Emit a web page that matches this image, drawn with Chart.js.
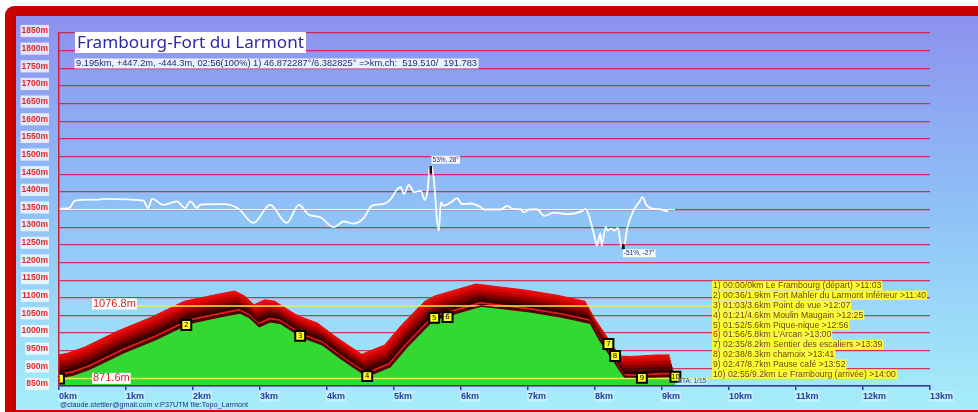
<!DOCTYPE html>
<html>
<head>
<meta charset="utf-8">
<script src="https://cdn.jsdelivr.net/npm/chart.js@4.4.1/dist/chart.umd.min.js"></script>
<style>
  html, body { margin: 0; padding: 0; background: #fff; }
  canvas { display: block; }
</style>
</head>
<body>
<canvas id="chart" width="978" height="412"></canvas>
<script>
// elevation profile (km / m)
const profileKm = [0.00, 0.21, 0.46, 0.96, 1.46, 1.95, 2.40, 2.70, 2.85, 2.99, 3.15, 3.30, 3.60, 3.70, 3.94, 4.20, 4.39, 4.60, 4.94, 5.19, 5.54, 5.69, 5.94, 6.30, 7.03, 7.52, 7.93, 8.07, 8.22, 8.37, 8.45, 8.60, 8.75, 9.00, 9.195];
const profileElev = [873, 881, 898, 944, 983, 1028, 1046, 1057, 1043, 1018, 1032, 1028, 992, 983, 966, 929, 904, 878, 904, 960, 1028, 1043, 1057, 1076.8, 1060, 1045, 1028, 980, 938, 895, 873, 871.6, 873, 876, 876];

// slope curve, drawn around the 1350m line
const slopeKm = [0.00, 0.15, 0.24, 0.61, 0.66, 1.26, 1.33, 1.39, 1.56, 1.76, 1.88, 1.96, 2.06, 2.11, 2.46, 2.68, 2.90, 3.15, 3.40, 3.58, 3.73, 3.90, 4.10, 4.25, 4.40, 4.55, 4.67, 4.85, 4.95, 5.05, 5.10, 5.15, 5.22, 5.30, 5.40, 5.46, 5.50, 5.53, 5.56, 5.60, 5.64, 5.67, 5.70, 5.74, 5.87, 5.94, 6.02, 6.14, 6.29, 6.34, 6.59, 6.69, 6.77, 6.89, 6.94, 7.02, 7.14, 7.24, 7.39, 7.59, 7.79, 7.86, 7.91, 7.99, 8.03, 8.08, 8.10, 8.16, 8.19, 8.24, 8.29, 8.34, 8.39, 8.43, 8.48, 8.58, 8.66, 8.71, 8.76, 8.84, 8.99, 9.09];
const slopeVal = [1352, 1354, 1375, 1378, 1380, 1375, 1354, 1380, 1363, 1373, 1354, 1373, 1354, 1364, 1365, 1352, 1312, 1363, 1312, 1363, 1335, 1328, 1300, 1316, 1310, 1326, 1361, 1366, 1379, 1408, 1413, 1394, 1420, 1399, 1403, 1377, 1403, 1465, 1474, 1426, 1324, 1290, 1371, 1361, 1373, 1382, 1365, 1367, 1357, 1350, 1350, 1360, 1352, 1350, 1342, 1350, 1350, 1332, 1341, 1337, 1344, 1352, 1332, 1275, 1248, 1282, 1248, 1301, 1290, 1296, 1290, 1298, 1248, 1243, 1296, 1349, 1371, 1385, 1365, 1353, 1350, 1344];
const slopeBase = 1350;
const slopeMaxText = '53%, 28°';
const slopeMinText = '-51%, -27°';

// waypoints
const waypointKm = [0, 1.9, 3.6, 4.6, 5.6, 5.8, 8.2, 8.3, 8.7, 9.2];
const waypointElev = [871, 1023, 992, 878, 1043, 1045, 969, 935, 873, 876];
const waypointText = [
  '1) 00:00/0km Le Frambourg (départ) >11:03',
  '2) 00:36/1.9km Fort Mahler du Larmont Inférieur >11:40',
  '3) 01:03/3.6km Point de vue >12:07',
  '4) 01:21/4.6km Moulin Maugain >12:25',
  '5) 01:52/5.6km Pique-nique >12:56',
  '6) 01:56/5.8km L\'Arcan >13:00',
  '7) 02:35/8.2km Sentier des escaliers >13:39',
  '8) 02:38/8.3km chamoix >13:41',
  '9) 02:47/8.7km Pause café >13:52',
  '10) 02:55/9.2km Le Frambourg (arrivée) >14:00'
];

const routeKm = 9.195;
const maxElev = 1076.8;
const minElev = 871.6;
const refLineEndKm = 9.8;
const maxLineStartKm = 1.1;

// axes
const yMin = 850, yMax = 1850, yStep = 50;
const xMin = 0, xMax = 13, xStep = 1;

const title = 'Frambourg-Fort du Larmont';
const subtitle = '9.195km, +447.2m, -444.3m, 02:56(100%) 1) 46.872287°/6.382825° =>km.ch:  519.510/  191.783';
const footer = '@claude.stettler@gmail.com v:P37UTM file:Topo_Larmont';
const scaleNote = 'FTA: 1/15';

// red 3d ribbon above the profile, top layer first
const ribbon = [
  { t: 1.00, color: '#ea0a0a' },
  { t: 0.86, color: '#d40606' },
  { t: 0.72, color: '#b40000' },
  { t: 0.58, color: '#8a0000' },
  { t: 0.44, color: '#5c0000' },
  { t: 0.30, color: '#360000' },
  { t: 0.16, color: '#ea1c1c' },
  { t: 0.08, color: '#400000' }
];
const ribbonDy = 62, ribbonDx = 0.08;

const pts = (xs, ys) => xs.map((x, i) => ({ x: x, y: ys[i] }));

const datasets = [];
datasets.push({
  data: pts(waypointKm, waypointElev), showLine: false, order: 0,
  pointStyle: 'rect', pointRadius: 7, pointBackgroundColor: '#ffff22',
  pointBorderColor: '#000', pointBorderWidth: 2
});
datasets.push({
  data: [{ x: 0, y: minElev }, { x: refLineEndKm, y: minElev }], order: 1,
  borderColor: '#e4f23c', borderWidth: 1.5, pointRadius: 0
});
datasets.push({
  data: pts(slopeKm, slopeVal), order: 2, borderColor: '#ffffff', borderWidth: 1.8,
  pointRadius: 0, cubicInterpolationMode: 'monotone'
});
datasets.push({
  data: [{ x: 0, y: slopeBase }, { x: routeKm, y: slopeBase }], order: 3,
  borderColor: 'rgba(255,255,255,0.95)', borderWidth: 1.2, pointRadius: 0
});
datasets.push({
  data: pts(profileKm, profileElev), order: 4, borderColor: '#5a0000', borderWidth: 1.5,
  pointRadius: 0, fill: 'start', backgroundColor: '#33d833'
});
datasets.push({
  data: [{ x: maxLineStartKm, y: maxElev }, { x: refLineEndKm, y: maxElev }], order: 5,
  borderColor: '#e4f23c', borderWidth: 1.5, pointRadius: 0
});
ribbon.forEach((r, i) => {
  datasets.push({
    data: profileKm.map((k, j) => ({ x: k - ribbonDx * r.t, y: profileElev[j] + ribbonDy * r.t })),
    order: 100 - i, borderColor: r.color, borderWidth: 1,
    pointRadius: 0, fill: 'start', backgroundColor: r.color
  });
});

function boxText(ctx, text, x, y, o) {
  ctx.save();
  ctx.font = o.font;
  const w0 = ctx.measureText(text).width;
  const sx = o.width ? o.width / w0 : 1;
  const w = w0 * sx;
  const pad = o.pad || 0;
  if (o.bg) {
    ctx.fillStyle = o.bg;
    ctx.fillRect(x - pad, y - o.h / 2, w + 2 * pad, o.h);
  }
  ctx.translate(x, y);
  ctx.scale(sx, 1);
  ctx.fillStyle = o.color;
  ctx.textBaseline = 'middle';
  ctx.textAlign = 'left';
  ctx.fillText(text, 0, 0);
  ctx.restore();
}

const decor = {
  id: 'decor',
  beforeDraw(chart) {
    const ctx = chart.ctx;
    ctx.save();
    ctx.fillStyle = '#fff';
    ctx.fillRect(0, 0, chart.width, chart.height);
    ctx.fillStyle = '#c80000';
    ctx.beginPath();
    ctx.roundRect(5, 6, chart.width + 20, chart.height + 20, 9);
    ctx.fill();
    const g = ctx.createLinearGradient(0, 16, 0, 410);
    g.addColorStop(0, '#8d91ee');
    g.addColorStop(0.5, '#8fc2f7');
    g.addColorStop(1, '#a6eefa');
    ctx.fillStyle = g;
    ctx.fillRect(16, 16, chart.width - 16, 394);
    ctx.restore();
  },
  afterDatasetsDraw(chart) {
    const ctx = chart.ctx;
    const meta = chart.getDatasetMeta(0);
    ctx.save();
    ctx.font = '7px "DejaVu Sans"';
    ctx.fillStyle = '#000';
    ctx.textAlign = 'center';
    ctx.textBaseline = 'middle';
    meta.data.forEach((p, i) => ctx.fillText(String(i + 1), p.x, p.y + 0.5));
    ctx.restore();
  },
  afterDraw(chart) {
    const ctx = chart.ctx;
    const xs = chart.scales.x, ys = chart.scales.y;

    // title + summary
    ctx.fillStyle = '#fff';
    ctx.fillRect(75, 32, 231, 21);
    boxText(ctx, title, 77, 43, { font: '17px "Noto Sans"', width: 227, color: '#2a2aa6' });
    boxText(ctx, subtitle, 76, 63.5, { font: '8.5px "Liberation Sans"', width: 401, color: '#1e2878', bg: 'rgba(255,255,255,0.85)', h: 10, pad: 1.5 });

    // reference levels
    const yMaxPx = ys.getPixelForValue(maxElev);
    const yMinPx = ys.getPixelForValue(minElev);
    boxText(ctx, maxElev + 'm', 93, yMaxPx - 2, { font: '11px "Liberation Sans"', color: '#e02020', bg: '#fff', h: 11, pad: 1 });
    boxText(ctx, minElev + 'm', 93, yMinPx, { font: '11px "Liberation Sans"', color: '#e02020', bg: '#fff', h: 11, pad: 1 });

    // slope extremes
    const iMax = slopeVal.indexOf(Math.max(...slopeVal));
    const iMin = slopeVal.indexOf(Math.min(...slopeVal));
    const pxMax = xs.getPixelForValue(slopeKm[iMax]), pyMax = ys.getPixelForValue(slopeVal[iMax]);
    const pxMin = xs.getPixelForValue(slopeKm[iMin]), pyMin = ys.getPixelForValue(slopeVal[iMin]);
    ctx.fillStyle = '#111';
    ctx.fillRect(pxMax - 2, pyMax, 2.5, 8);
    ctx.fillRect(pxMin - 2, pyMin - 3, 3, 5);
    boxText(ctx, slopeMaxText, pxMax + 1, pyMax - 6, { font: '6.5px "Liberation Sans"', color: '#1e2878', bg: 'rgba(255,255,255,0.9)', h: 8, pad: 1 });
    boxText(ctx, slopeMinText, pxMin, pyMin + 6, { font: '6.5px "Liberation Sans"', color: '#1e2878', bg: 'rgba(255,255,255,0.9)', h: 8, pad: 1 });

    // waypoint list
    const lf = '9.5px "Liberation Sans"';
    ctx.font = lf;
    const sx = 213 / ctx.measureText(waypointText[1]).width;
    waypointText.forEach((t, i) => {
      ctx.font = lf;
      const w = ctx.measureText(t).width * sx;
      boxText(ctx, t, 713, 285.5 + i * 9.85, { font: lf, width: w, color: '#6a4410', bg: '#ffff33', h: 9.5, pad: 1 });
    });

    boxText(ctx, scaleNote, xs.getPixelForValue(routeKm) + 3, yMinPx + 3, { font: '6.5px "Liberation Sans"', color: '#3040a0', bg: 'rgba(255,255,255,0.35)', h: 7, pad: 0.5 });
    boxText(ctx, footer, 60, 405, { font: '6.5px "Liberation Sans"', width: 188, color: '#25307e' });
  }
};

new Chart(document.getElementById('chart').getContext('2d'), {
  type: 'line',
  data: { datasets: datasets },
  options: {
    responsive: false,
    animation: false,
    layout: { padding: { left: 0, top: 33, right: 48, bottom: 0 } },
    plugins: { legend: { display: false }, tooltip: { enabled: false } },
    scales: {
      x: {
        type: 'linear', min: xMin, max: xMax,
        afterFit: s => { s.height = 26; },
        ticks: {
          stepSize: xStep, callback: v => v + 'km', autoSkip: false, maxRotation: 0,
          align: 'start', padding: 1, color: '#2c3c9c',
          font: { family: 'Liberation Sans', size: 9, weight: 'bold' },
          showLabelBackdrop: true, backdropColor: 'rgba(255,255,255,0.3)', backdropPadding: { x: 1, y: 0 }, z: 1
        },
        grid: { drawOnChartArea: false, drawTicks: true, tickLength: 4, color: '#2c3ca0', lineWidth: 1.5 },
        border: { color: '#2c3ca0', width: 1.5, z: 1 }
      },
      y: {
        type: 'linear', min: yMin, max: yMax,
        afterFit: s => { s.width = 59; },
        ticks: {
          stepSize: yStep, callback: v => v + 'm', padding: 11, labelOffset: -2, color: '#e02a2a',
          font: { family: 'Liberation Sans', size: 8.5, weight: 'bold' },
          showLabelBackdrop: true, backdropColor: 'rgba(255,255,255,0.75)', backdropPadding: { x: 1, y: 1 }
        },
        grid: { color: 'rgba(214,24,56,0.85)', lineWidth: 1.2, drawTicks: false },
        border: { color: '#d01c30', width: 1.5, z: 1 }
      }
    }
  },
  plugins: [decor]
});
</script>
</body>
</html>
